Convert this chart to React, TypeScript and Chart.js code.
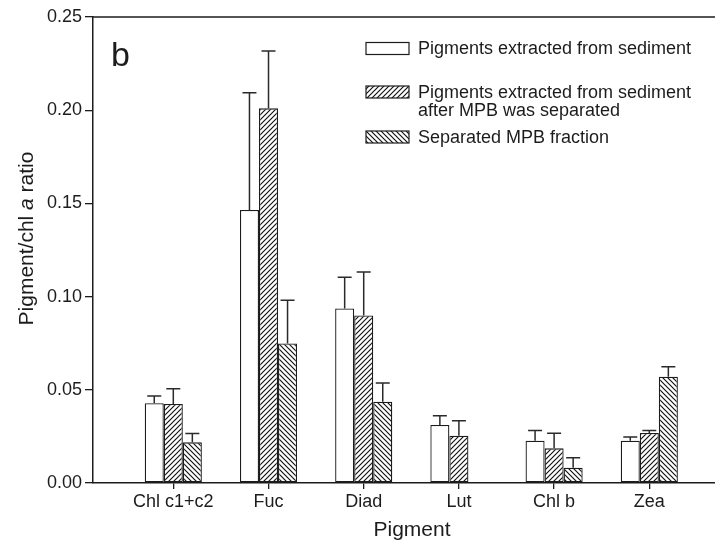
import React, { useEffect, useRef } from 'react';
import { Chart, registerables } from 'chart.js';

Chart.register(...registerables);

const categories = ['Chl c1+c2', 'Fuc', 'Diad', 'Lut', 'Chl b', 'Zea'];
const seriesLabels = [
  ['Pigments extracted from sediment'],
  ['Pigments extracted from sediment', 'after MPB was separated'],
  ['Separated MPB fraction'],
];
const sedimentValues = [0.0428, 0.1465, 0.0936, 0.0311, 0.0227, 0.0227];
const sedimentErrors = [0.0039, 0.0629, 0.0168, 0.005, 0.0054, 0.002];
const afterMpbValues = [0.0424, 0.201, 0.0899, 0.0254, 0.0186, 0.0268];
const afterMpbErrors = [0.0082, 0.0308, 0.0233, 0.008, 0.0081, 0.0014];
const mpbValues: (number | null)[] = [0.0218, 0.0749, 0.0436, null, 0.0082, 0.057];
const mpbErrors: (number | null)[] = [0.0047, 0.0232, 0.01, null, 0.0054, 0.0053];
const yTicks = [0, 0.05, 0.1, 0.15, 0.2, 0.25];

const FONT = '"Liberation Sans", Arial, Helvetica, sans-serif';
const INK = '#1c1c1c';

function makeHatch(dir: 'up' | 'down'): CanvasPattern | string {
  const s = 5;
  const c = document.createElement('canvas');
  c.width = s;
  c.height = s;
  const g = c.getContext('2d');
  if (!g) return '#fff';
  g.fillStyle = '#fff';
  g.fillRect(0, 0, s, s);
  g.strokeStyle = '#111';
  g.lineWidth = 1.15;
  g.beginPath();
  if (dir === 'up') {
    g.moveTo(0, s); g.lineTo(s, 0);
    g.moveTo(-1, 1); g.lineTo(1, -1);
    g.moveTo(s - 1, s + 1); g.lineTo(s + 1, s - 1);
  } else {
    g.moveTo(0, 0); g.lineTo(s, s);
    g.moveTo(-1, s - 1); g.lineTo(1, s + 1);
    g.moveTo(s - 1, -1); g.lineTo(s + 1, 1);
  }
  g.stroke();
  const p = g.createPattern(c, 'repeat');
  return p || '#fff';
}

export default function App() {
  const ref = useRef<HTMLCanvasElement | null>(null);

  useEffect(() => {
    const canvas = ref.current;
    if (!canvas) return;
    const hatchUp = makeHatch('up');
    const hatchDown = makeHatch('down');
    const fills = ['#ffffff', hatchUp, hatchDown];
    const errors = [sedimentErrors, afterMpbErrors, mpbErrors];

    const toPoints = (vals: (number | null)[]) =>
      vals.map((v, i) => ({ x: i + 1, y: v }));

    const decorPlugin = {
      id: 'decor',
      afterDatasetsDraw(chart: any) {
        const ctx = chart.ctx;
        const yScale = chart.scales.y;
        ctx.save();
        ctx.strokeStyle = '#2a2a2a';
        ctx.lineWidth = 1.5;
        chart.data.datasets.forEach((ds: any, di: number) => {
          const meta = chart.getDatasetMeta(di);
          meta.data.forEach((bar: any, i: number) => {
            const v = ds.data[i].y;
            const e = errors[di][i];
            if (v == null || e == null) return;
            const yTop = yScale.getPixelForValue(v + e);
            const yBar = yScale.getPixelForValue(v);
            ctx.beginPath();
            ctx.moveTo(bar.x, yBar);
            ctx.lineTo(bar.x, yTop);
            ctx.moveTo(bar.x - 7, yTop);
            ctx.lineTo(bar.x + 7, yTop);
            ctx.stroke();
          });
        });
        ctx.restore();
      },
      afterDraw(chart: any) {
        const ctx = chart.ctx;
        const area = chart.chartArea;
        ctx.save();
        // top frame line
        ctx.strokeStyle = INK;
        ctx.lineWidth = 1.5;
        ctx.beginPath();
        ctx.moveTo(area.left, area.top);
        ctx.lineTo(chart.width, area.top);
        ctx.stroke();

        // panel letter
        ctx.fillStyle = INK;
        ctx.font = `34px ${FONT}`;
        ctx.textBaseline = 'alphabetic';
        ctx.textAlign = 'left';
        ctx.fillText('b', 111, 66);

        // legend
        const rows = [
          { box: 42.5, lines: [54.3] },
          { box: 86, lines: [98.3, 116] },
          { box: 131, lines: [142.7] },
        ];
        ctx.font = `18px ${FONT}`;
        rows.forEach((r, i) => {
          ctx.fillStyle = fills[i] as any;
          ctx.fillRect(366, r.box, 43, 12);
          ctx.strokeStyle = INK;
          ctx.lineWidth = 1.2;
          ctx.strokeRect(366, r.box, 43, 12);
          ctx.fillStyle = INK;
          seriesLabels[i].forEach((t, j) => ctx.fillText(t, 418, r.lines[j]));
        });

        // x title
        ctx.font = `21px ${FONT}`;
        ctx.textAlign = 'center';
        ctx.fillText('Pigment', 412, 536);

        // y title with italic "a"
        const parts = [
          { t: 'Pigment/chl ', it: false },
          { t: 'a', it: true },
          { t: ' ratio', it: false },
        ];
        ctx.textAlign = 'left';
        const widths = parts.map((p) => {
          ctx.font = `${p.it ? 'italic ' : ''}21px ${FONT}`;
          return ctx.measureText(p.t).width;
        });
        const total = widths.reduce((a, b) => a + b, 0);
        ctx.translate(33, 238.5);
        ctx.rotate(-Math.PI / 2);
        let x = -total / 2;
        parts.forEach((p, k) => {
          ctx.font = `${p.it ? 'italic ' : ''}21px ${FONT}`;
          ctx.fillText(p.t, x, 0);
          x += widths[k];
        });
        ctx.restore();
      },
    };

    const chart = new Chart(canvas, {
      type: 'bar',
      data: {
        datasets: [
          { label: seriesLabels[0].join(' '), data: toPoints(sedimentValues) as any, backgroundColor: fills[0] as any },
          { label: seriesLabels[1].join(' '), data: toPoints(afterMpbValues) as any, backgroundColor: fills[1] as any },
          { label: seriesLabels[2].join(' '), data: toPoints(mpbValues) as any, backgroundColor: fills[2] as any },
        ].map((d) => ({
          ...d,
          borderColor: INK,
          borderWidth: 1.3,
          borderSkipped: false as any,
          barPercentage: 1,
          categoryPercentage: 0.6,
        })),
      },
      options: {
        responsive: false,
        animation: false,
        devicePixelRatio: 1,
        layout: { padding: { top: 17, left: 0, right: 0, bottom: 0 } },
        plugins: {
          legend: { display: false },
          tooltip: { enabled: false },
          title: { display: false },
        },
        scales: {
          x: {
            type: 'linear',
            min: 0.1565,
            max: 6.69,
            offset: false,
            grid: {
              display: true,
              offset: false,
              drawOnChartArea: false,
              drawTicks: true,
              tickLength: 6,
              color: INK,
              lineWidth: 1.3,
            },
            border: { display: true, color: INK, width: 1.5 },
            afterBuildTicks: (axis: any) => {
              axis.ticks = categories.map((_, i) => ({ value: i + 1 }));
            },
            afterFit: (scale: any) => {
              scale.height = 58;
            },
            ticks: {
              autoSkip: false,
              maxRotation: 0,
              padding: 2,
              color: INK,
              font: { family: FONT, size: 18 },
              callback: (v: any) => categories[Math.round(Number(v)) - 1] ?? '',
            },
          },
          y: {
            type: 'linear',
            min: 0,
            max: 0.25,
            grid: {
              display: true,
              drawOnChartArea: false,
              drawTicks: true,
              tickLength: 8,
              color: INK,
              lineWidth: 1.3,
            },
            border: { display: true, color: INK, width: 1.5 },
            afterBuildTicks: (axis: any) => {
              axis.ticks = yTicks.map((v) => ({ value: v }));
            },
            afterFit: (scale: any) => {
              scale.width = 93;
            },
            ticks: {
              padding: 3,
              color: INK,
              font: { family: FONT, size: 18 },
              callback: (v: any) => Number(v).toFixed(2),
            },
          },
        },
      },
      plugins: [decorPlugin],
    });

    return () => {
      chart.destroy();
    };
  }, []);

  return (
    <div style={{ position: 'absolute', left: 0, top: 0, width: 715, height: 541, background: '#fff' }}>
      <canvas ref={ref} width={715} height={541} />
    </div>
  );
}
